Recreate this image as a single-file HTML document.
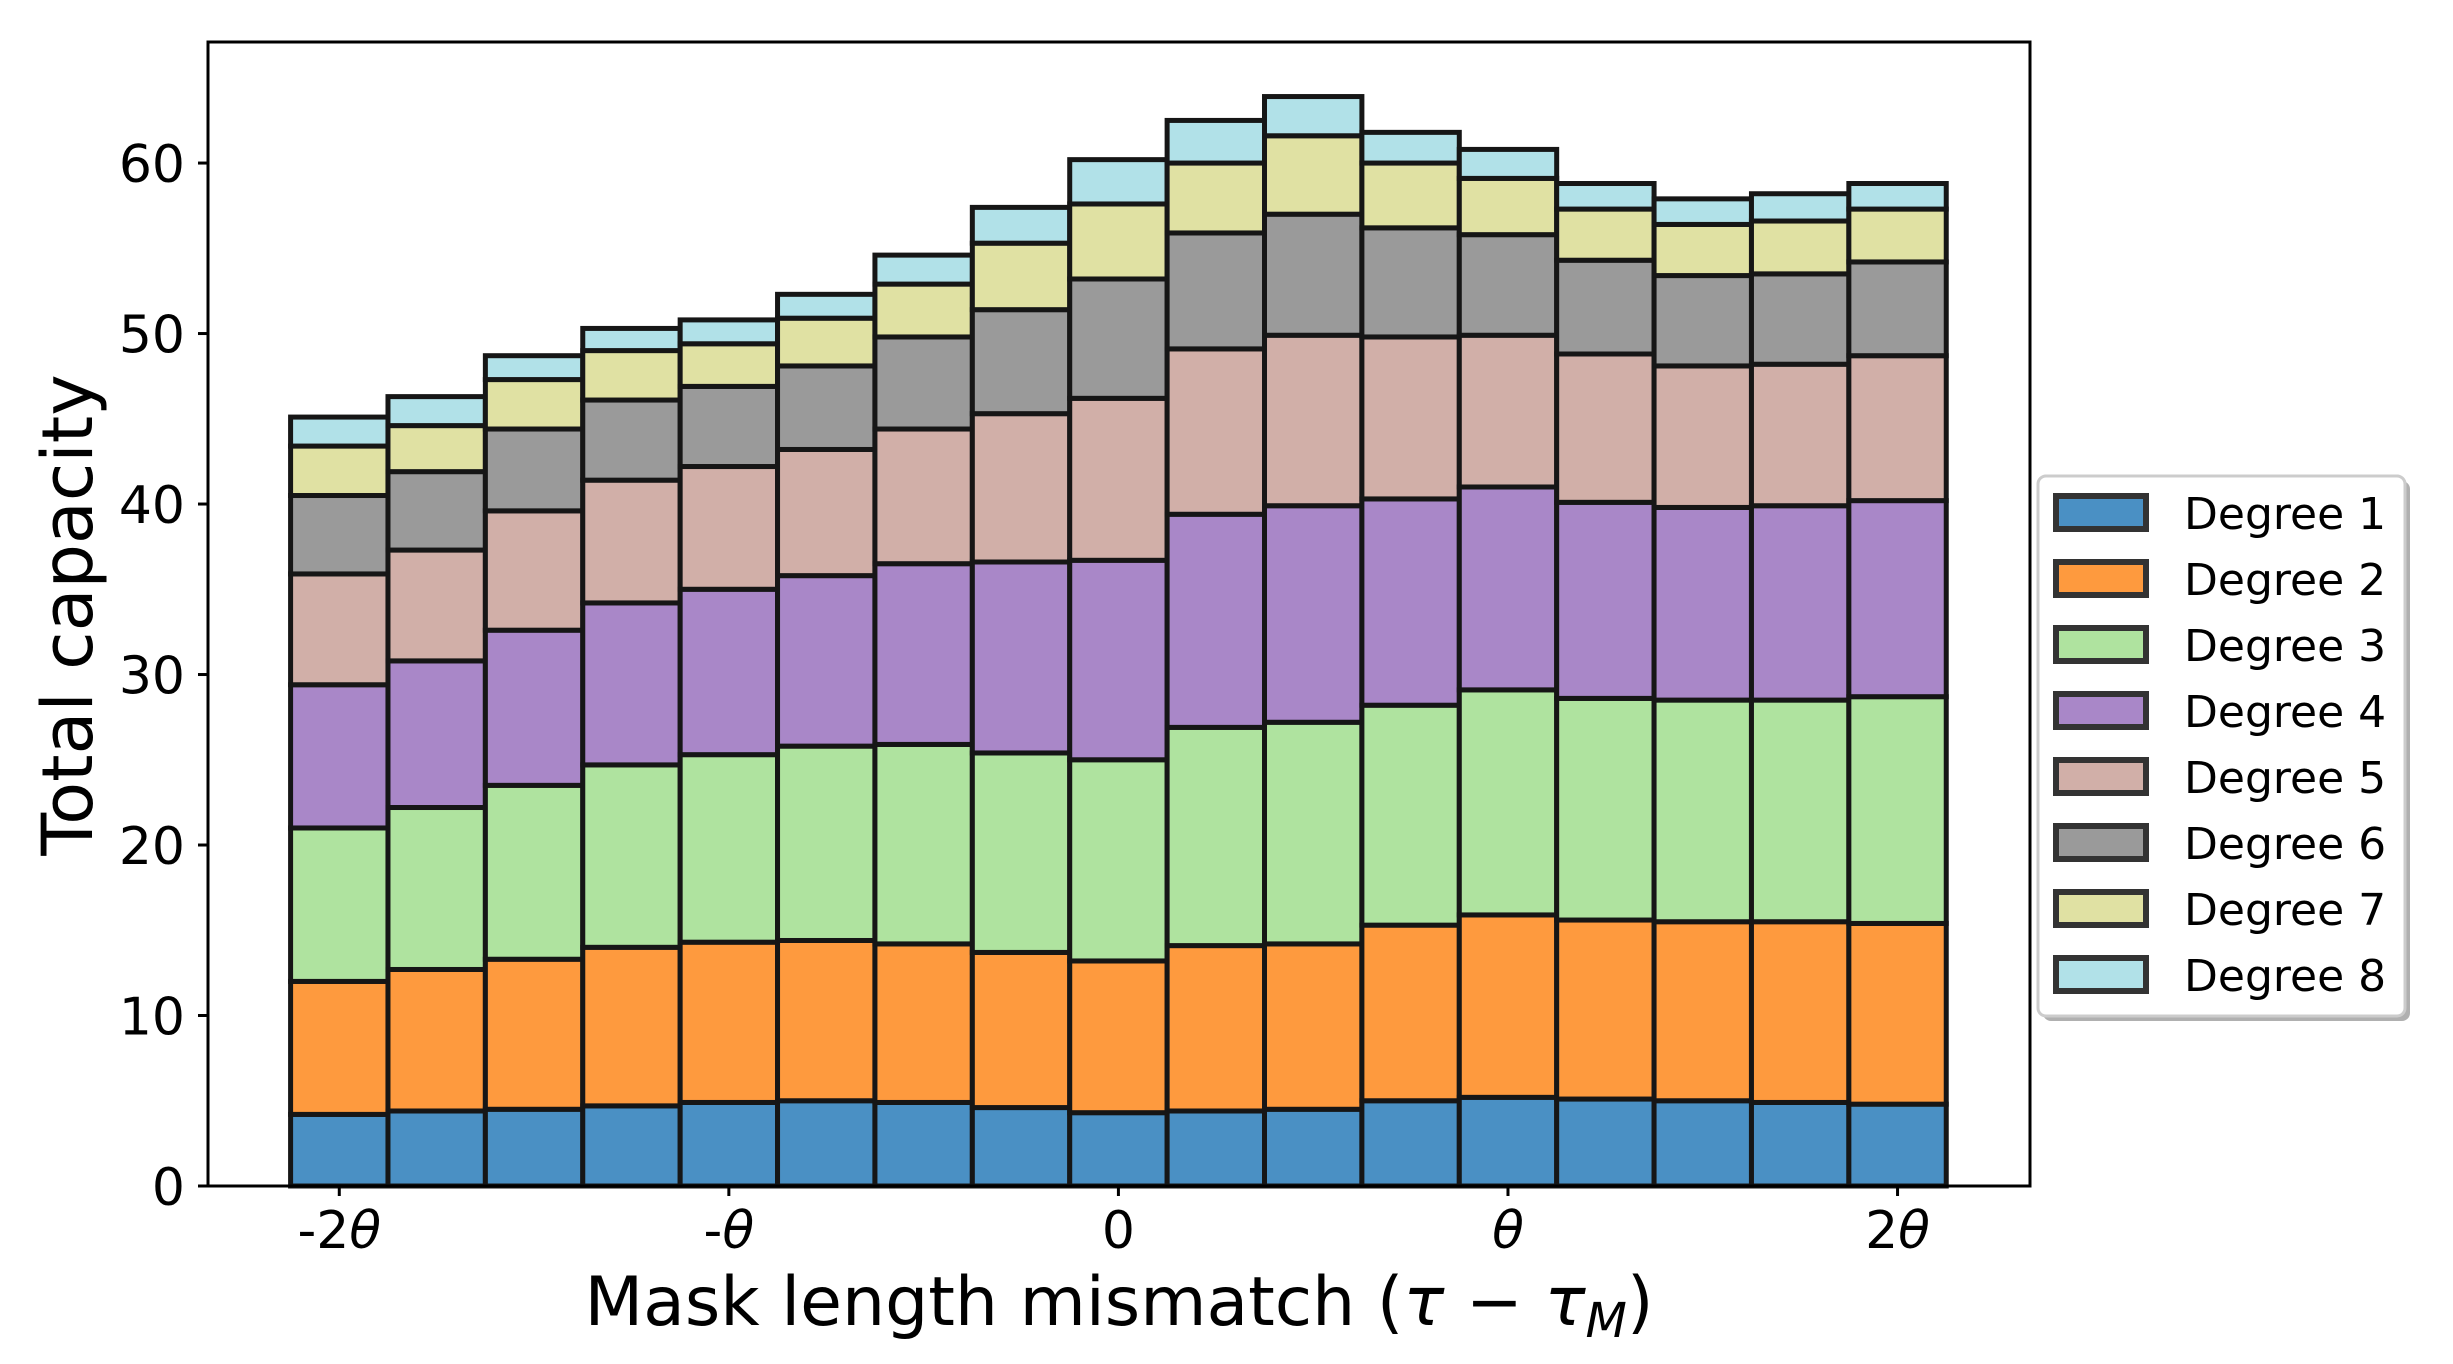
<!DOCTYPE html>
<html><head><meta charset="utf-8">
<style>
html,body{margin:0;padding:0;background:#fff;}
svg{display:block;font-family:"DejaVu Sans","Liberation Sans",sans-serif;}
</style></head>
<body>
<svg id="chart" width="2453" height="1364" viewBox="0 0 2453 1364" xmlns="http://www.w3.org/2000/svg">
  <rect x="0" y="0" width="2453" height="1364" fill="#fff"/>
  <g id="bars"></g>
  <g id="axes"></g>
  <g id="legend"></g>
</svg>
<script>
const categories = [-2,-1.75,-1.5,-1.25,-1,-0.75,-0.5,-0.25,0,0.25,0.5,0.75,1,1.25,1.5,1.75,2];
const seriesNames = ["Degree 1","Degree 2","Degree 3","Degree 4","Degree 5","Degree 6","Degree 7","Degree 8"];
const degree1 = [4.2,4.4,4.5,4.7,4.9,5.0,4.9,4.6,4.3,4.4,4.5,5.0,5.2,5.1,5.0,4.9,4.8];
const degree2 = [7.8,8.3,8.8,9.3,9.4,9.4,9.3,9.1,8.9,9.7,9.7,10.3,10.7,10.5,10.5,10.6,10.6];
const degree3 = [9.0,9.5,10.2,10.7,11.0,11.4,11.7,11.7,11.8,12.8,13.0,12.9,13.2,13.0,13.0,13.0,13.3];
const degree4 = [8.4,8.6,9.1,9.5,9.7,10.0,10.6,11.2,11.7,12.5,12.7,12.1,11.9,11.5,11.3,11.4,11.5];
const degree5 = [6.5,6.5,7.0,7.2,7.2,7.4,7.9,8.7,9.5,9.7,10.0,9.5,8.9,8.7,8.3,8.3,8.5];
const degree6 = [4.6,4.6,4.8,4.7,4.7,4.9,5.4,6.1,7.0,6.8,7.1,6.4,5.9,5.5,5.3,5.3,5.5];
const degree7 = [2.9,2.7,2.9,2.9,2.5,2.8,3.1,3.9,4.4,4.1,4.6,3.8,3.3,3.0,3.0,3.1,3.1];
const degree8 = [1.7,1.7,1.4,1.3,1.4,1.4,1.7,2.1,2.6,2.5,2.3,1.8,1.7,1.5,1.5,1.6,1.5];
const yTicks = [0,10,20,30,40,50,60];
const xTickValues = [-2,-1,0,1,2];
const xTickPrefix = ["-2","-","0","",""];
const xTickTheta = [true,true,false,true,true];
const xTickLead = ["","","","","2"];

const series = [degree1,degree2,degree3,degree4,degree5,degree6,degree7,degree8];
const colors = ["#4a90c4","#fe9a3e","#afe39f","#a987c8","#d1afa8","#9a9a9a","#e0e1a3","#b1e1e8"];
const NS = "http://www.w3.org/2000/svg";
const L = 208, R = 2030, T = 42, B = 1186;
const xMin = -2.337, xMax = 2.34, yMin = 0, yMax = 67.1;
const barW = 0.25;
function xs(v){ return L + (v - xMin) / (xMax - xMin) * (R - L); }
function ys(v){ return B - (v - yMin) / (yMax - yMin) * (B - T); }
function mk(tag, attrs, parent){
  const e = document.createElementNS(NS, tag);
  for (const k in attrs) e.setAttribute(k, attrs[k]);
  parent.appendChild(e); return e;
}
const gBars = document.getElementById('bars');
const gAxes = document.getElementById('axes');
const gLeg = document.getElementById('legend');

categories.forEach((c, i) => {
  let base = 0;
  series.forEach((s, j) => {
    const top = base + s[i];
    const x0 = xs(c - barW/2), x1 = xs(c + barW/2);
    const r = mk('rect', {x: x0, y: ys(top), width: x1 - x0, height: ys(base) - ys(top), fill: colors[j], stroke: '#161616', 'stroke-width': 5}, gBars);
    
    
    base = top;
  });
});

const frame = mk('rect', {x: L, y: T, width: R - L, height: B - T, fill: 'none', stroke: '#000', 'stroke-width': 3}, gAxes);



yTicks.forEach(v => {
  const y = ys(v);
  const t = mk('line', {x1: L - 10, x2: L, y1: y, y2: y, stroke: '#000', 'stroke-width': 3}, gAxes);
  
  
  const lb = mk('text', {x: 185, y: y + 19, 'text-anchor': 'end', 'font-size': 52, fill: '#000'}, gAxes);
  lb.textContent = v;
  
  
});
xTickValues.forEach((v, i) => {
  const x = xs(v);
  const t = mk('line', {x1: x, x2: x, y1: B, y2: B + 10, stroke: '#000', 'stroke-width': 3}, gAxes);
  
  
  const lb = mk('text', {x: x, y: 1248, 'text-anchor': 'middle', 'font-size': 52, fill: '#000'}, gAxes);
  let html = xTickPrefix[i] + xTickLead[i];
  if (xTickTheta[i]) html += '<tspan font-style="italic">θ</tspan>';
  lb.innerHTML = html;
  
  
});
const xl = mk('text', {x: (L + R)/2, y: 1325, 'text-anchor': 'middle', 'font-size': 68, fill: '#000'}, gAxes);
xl.innerHTML = 'Mask length mismatch (<tspan font-style="italic">τ</tspan> − <tspan font-style="italic">τ</tspan><tspan font-style="italic" font-size="48" dy="12">M</tspan><tspan dy="-12">)</tspan>';


const yl = mk('text', {x: 0, y: 0, 'text-anchor': 'middle', 'font-size': 70, fill: '#000', transform: 'translate(92,615) rotate(-90)'}, gAxes);
yl.textContent = 'Total capacity';



const sh = mk('rect', {x: 2043, y: 481, width: 367, height: 540, rx: 8, fill: '#b0b0b0'}, gLeg);


const box = mk('rect', {x: 2038, y: 476, width: 367, height: 540, rx: 8, fill: '#fff', stroke: '#ccc', 'stroke-width': 3}, gLeg);


seriesNames.forEach((n, j) => {
  const y = 496 + j * 66;
  const p = mk('rect', {x: 2056, y: y, width: 90, height: 33, fill: colors[j], stroke: '#333', 'stroke-width': 6}, gLeg);
  
  
  const tx = mk('text', {x: 2184, y: y + 33, 'font-size': 44, fill: '#000'}, gLeg);
  tx.textContent = n;
  
  
});
</script>
</body></html>
